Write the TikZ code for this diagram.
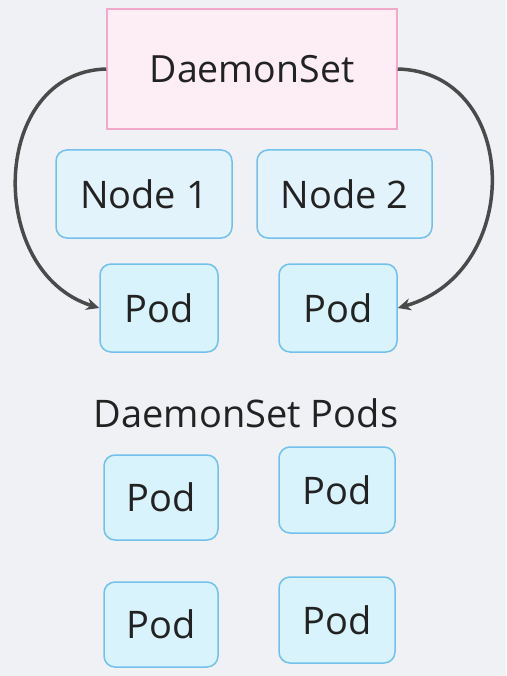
\documentclass[tikz,border=0pt]{standalone}
\usepackage{fontspec}
\setmainfont{Open Sans}
\usetikzlibrary{arrows.meta}
\definecolor{bg}{HTML}{F0F1F5}
\definecolor{pinkfill}{HTML}{FDEEF5}
\definecolor{pinkline}{HTML}{F3A9C9}
\definecolor{nodefill}{HTML}{E3F3FC}
\definecolor{podfill}{HTML}{D8F3FB}
\definecolor{blueline}{HTML}{72C0EC}
\definecolor{arrowc}{HTML}{4A4A4A}
\definecolor{txt}{HTML}{222222}
\tikzset{
  dsbox/.style={draw=pinkline, fill=pinkfill, line width=1.5pt, minimum width=290pt, minimum height=120pt, inner sep=0pt, text=txt, font=\fontsize{37.5}{40}\selectfont},
  nodebox/.style={draw=blueline, fill=nodefill, line width=1.5pt, rounded corners=11pt, minimum height=88pt, inner sep=0pt, text=txt, font=\fontsize{38}{42}\selectfont},
  podbox/.style={draw=blueline, fill=podfill, line width=1.5pt, rounded corners=11pt, inner sep=0pt, text=txt, font=\fontsize{38}{42}\selectfont},
  lbl/.style={inner sep=0pt, text=txt, font=\fontsize{38}{42}\selectfont},
  conn/.style={draw=arrowc, line width=3.5pt, -{Stealth[length=13pt,width=12pt]}}
}
\begin{document}
\begin{tikzpicture}[x=1pt,y=-1pt]
\fill[bg] (0,0) rectangle (506,676);
\useasboundingbox (0,0) rectangle (506,676);
\node[dsbox] (ds) at (252,69) {DaemonSet};
\node[nodebox, minimum width=176pt] (n1) at (144,194) {Node 1};
\node[nodebox, minimum width=175pt] (n2) at (344.5,194) {Node 2};
\node[podbox, minimum width=118pt, minimum height=88pt] (p1) at (159,308) {Pod};
\node[podbox, minimum width=118pt, minimum height=88pt] (p2) at (338,308) {Pod};
\node[lbl] (lab) at (246,413) {DaemonSet Pods};
\node[podbox, minimum width=114pt, minimum height=85pt] (p3) at (161,497.5) {Pod};
\node[podbox, minimum width=116pt, minimum height=86pt] (p4) at (337,490) {Pod};
\node[podbox, minimum width=114pt, minimum height=85pt] (p5) at (161,624.5) {Pod};
\node[podbox, minimum width=116pt, minimum height=86pt] (p6) at (337,620) {Pod};
\draw[conn] (ds.west) .. controls (-10,72) and (-15,272) .. (p1.west);
\draw[conn] (ds.east) .. controls (520,72) and (525,272) .. (p2.east);
\end{tikzpicture}
\end{document}
